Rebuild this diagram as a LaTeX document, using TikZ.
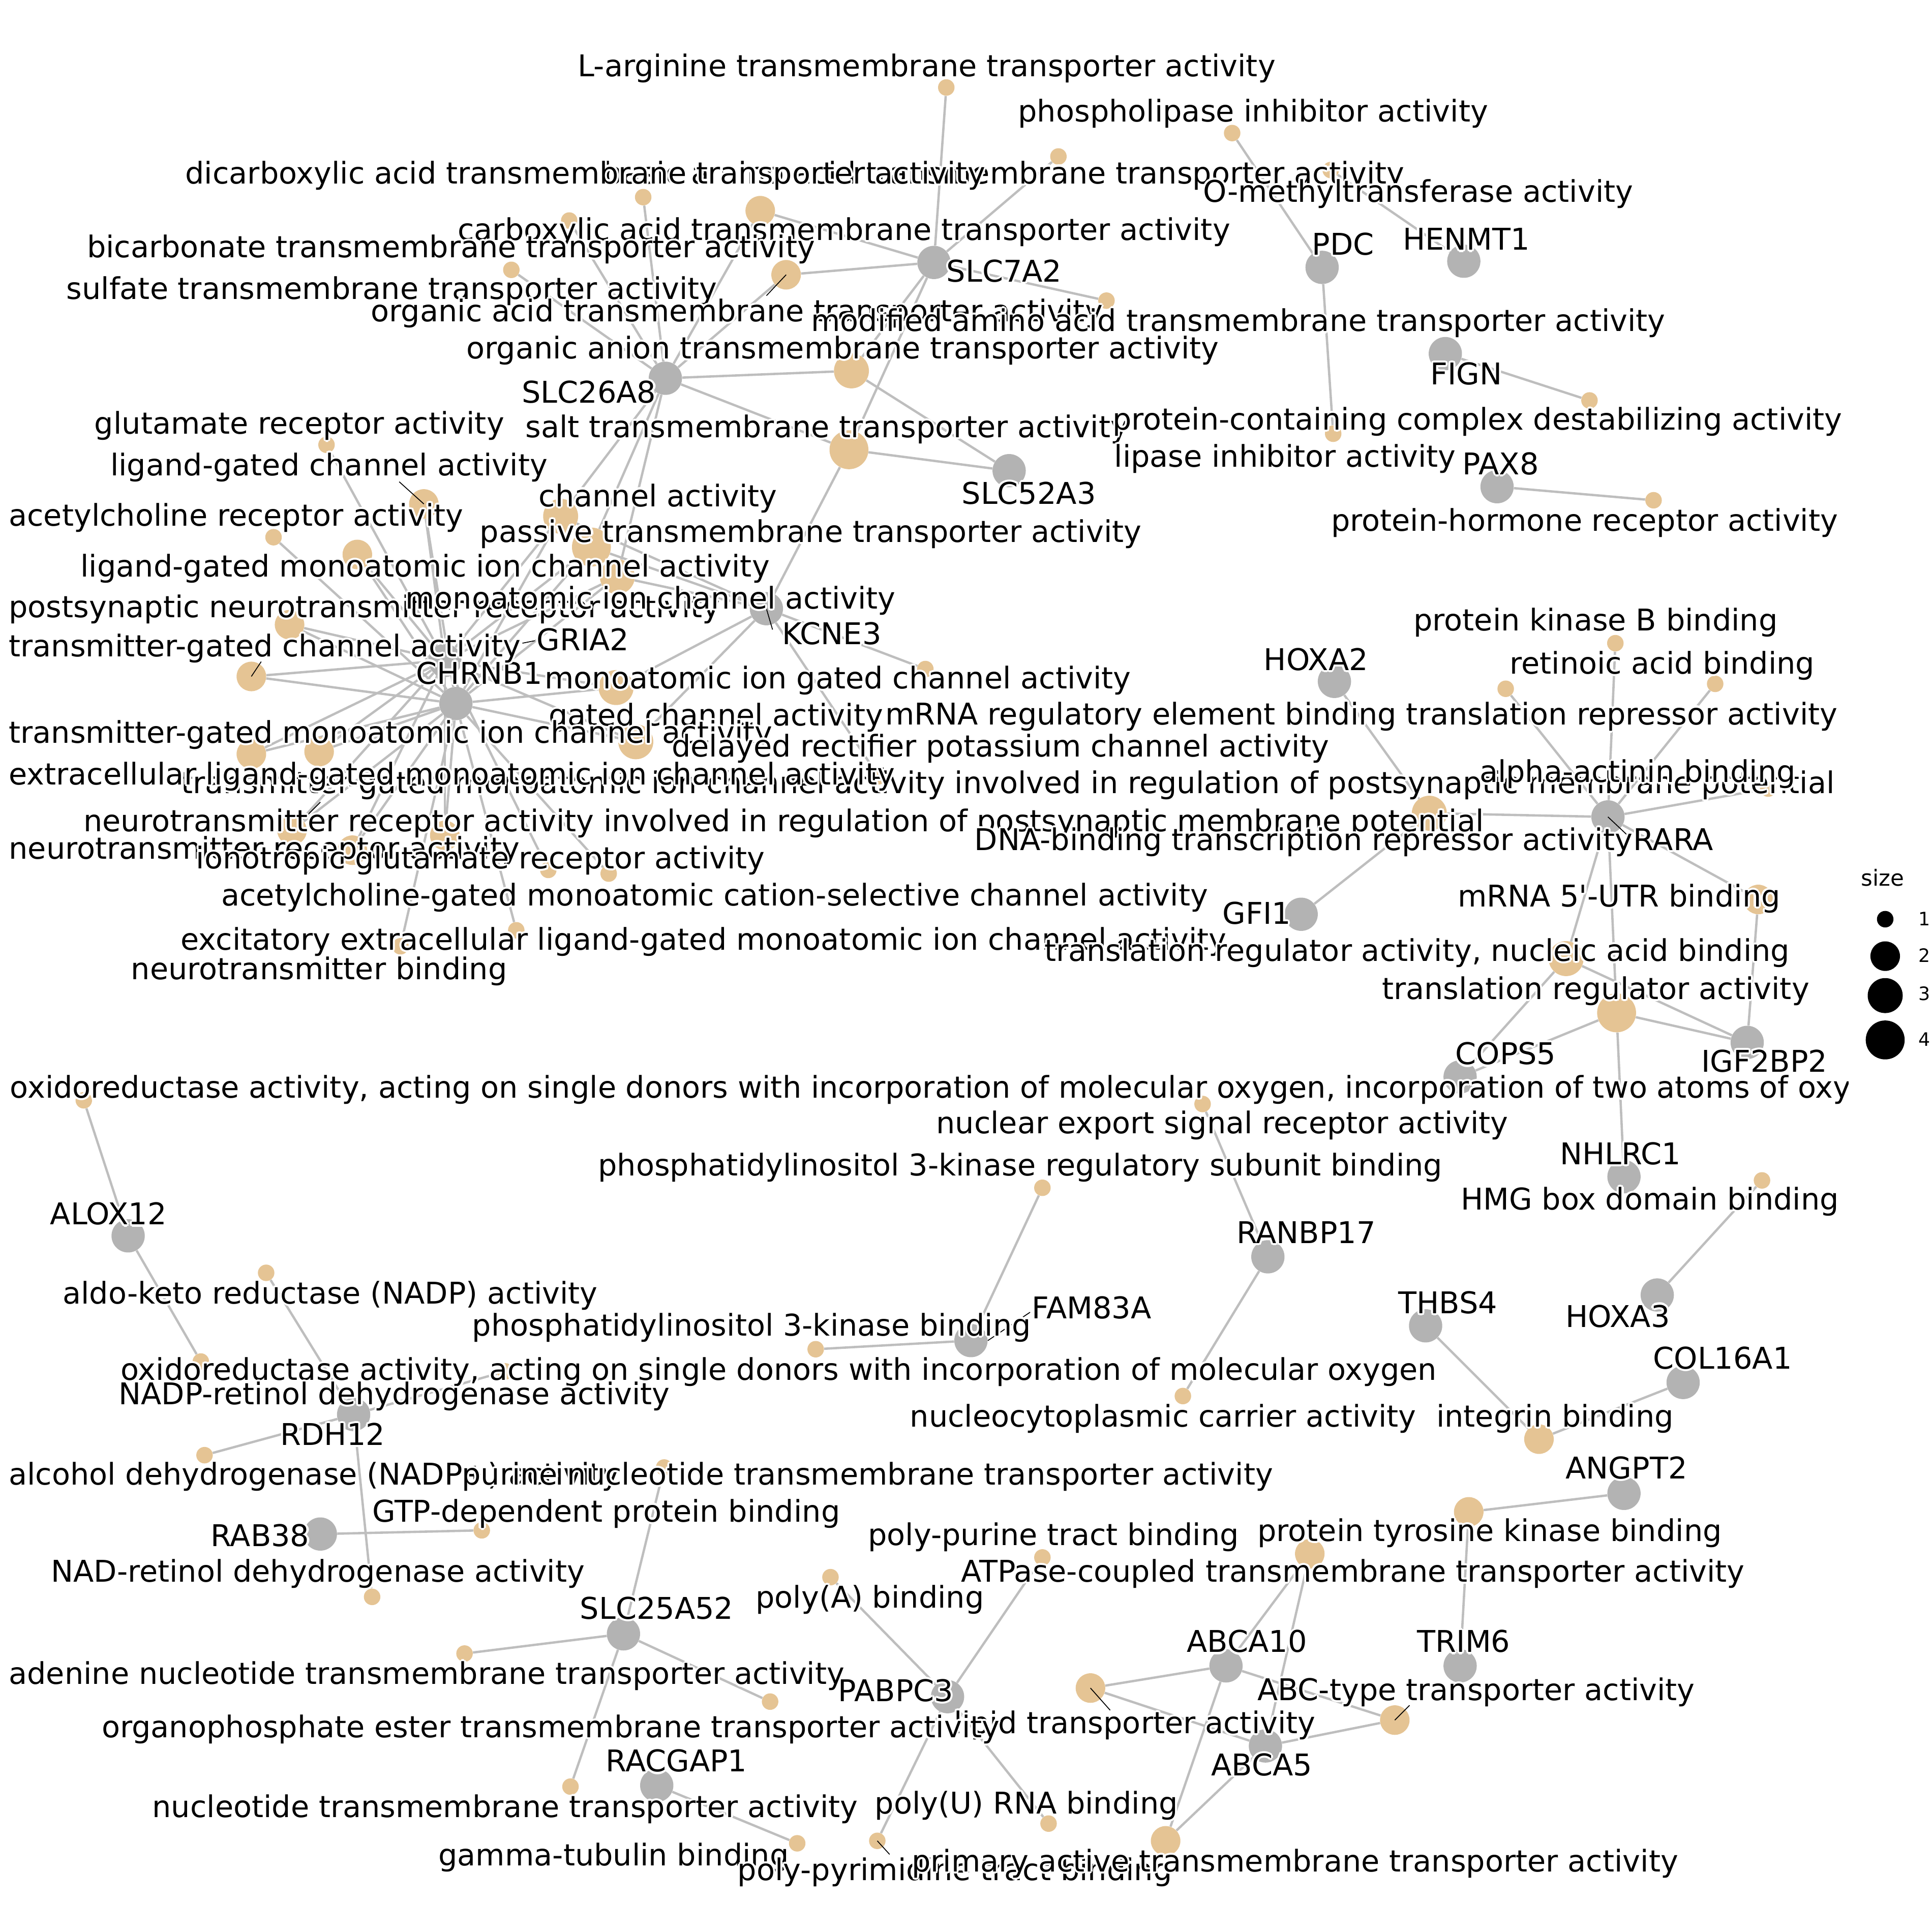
\documentclass[tikz,border=0pt]{standalone}
\usepackage{fontspec}
\setmainfont{DejaVu Sans}
\usetikzlibrary{backgrounds}
\definecolor{termtan}{HTML}{E5C494}
\definecolor{genegrey}{HTML}{B3B3B3}
\definecolor{linkgrey}{HTML}{BEBEBE}
% white halo behind a label
\newcommand{\haloshift}[3]{\rlap{\kern#1\raisebox{#2}{#3}}}
\newcommand{\halo}[1]{\leavevmode
  \rlap{\color{white}%
    \haloshift{1.7pt}{0pt}{#1}\haloshift{-1.7pt}{0pt}{#1}%
    \haloshift{0pt}{1.7pt}{#1}\haloshift{0pt}{-1.7pt}{#1}%
    \haloshift{1.2pt}{1.2pt}{#1}\haloshift{-1.2pt}{1.2pt}{#1}%
    \haloshift{1.2pt}{-1.2pt}{#1}\haloshift{-1.2pt}{-1.2pt}{#1}}%
  #1}

\begin{document}
\begin{tikzpicture}[
  x=1pt, y=-1pt,
  font=\fontsize{24.3}{29}\selectfont,
  gene/.style={circle, fill=genegrey, inner sep=0pt, minimum size=27},
  term/.style={circle, fill=termtan, inner sep=0pt},
  t1/.style={term, minimum size=13.4},
  t2/.style={term, minimum size=24},
  t3/.style={term, minimum size=28.4},
  t4/.style={term, minimum size=31.6},
  lbl/.style={anchor=base, inner sep=0pt},
  lblw/.style={anchor=base west, inner sep=0pt},
  link/.style={draw=linkgrey, line width=1.9},
  seg/.style={black, line width=0.7},
  key/.style={circle, fill=black, inner sep=0pt}
]
    \useasboundingbox (0,0) rectangle (1568,1568);

    % gene nodes
    \node[gene] (g-slc7a2)   at (758,213)  {};
    \node[gene] (g-slc26a8)  at (540,307)  {};
    \node[gene] (g-slc52a3)  at (819,382)  {};
    \node[gene] (g-pdc)      at (1073,217) {};
    \node[gene] (g-henmt1)   at (1188,212) {};
    \node[gene] (g-fign)     at (1173,287) {};
    \node[gene] (g-pax8)     at (1215,395) {};
    \node[gene] (g-kcne3)    at (622,494)  {};
    \node[gene] (g-gria2)    at (361,536)  {};
    \node[gene] (g-chrnb1)   at (370,571)  {};
    \node[gene] (g-hoxa2)    at (1083,553) {};
    \node[gene] (g-rara)     at (1305,663) {};
    \node[gene] (g-gfi1)     at (1056,742) {};
    \node[gene] (g-cops5)    at (1185,874) {};
    \node[gene] (g-igf2bp2)  at (1418,846) {};
    \node[gene] (g-nhlrc1)   at (1318,955) {};
    \node[gene] (g-alox12)   at (104,1003) {};
    \node[gene] (g-ranbp17)  at (1029,1020) {};
    \node[gene] (g-fam83a)   at (788,1088) {};
    \node[gene] (g-hoxa3)    at (1345,1051) {};
    \node[gene] (g-thbs4)    at (1157,1076) {};
    \node[gene] (g-col16a1)  at (1366,1122) {};
    \node[gene] (g-rdh12)    at (287,1148) {};
    \node[gene] (g-angpt2)   at (1318,1212) {};
    \node[gene] (g-rab38)    at (260,1245) {};
    \node[gene] (g-slc25a52) at (506,1326) {};
    \node[gene] (g-abca10)   at (995,1352) {};
    \node[gene] (g-trim6)    at (1185,1352) {};
    \node[gene] (g-pabpc3)   at (769,1377) {};
    \node[gene] (g-abca5)    at (1027,1417) {};
    \node[gene] (g-racgap1)  at (533,1449) {};

    % term nodes, transporters
    \node[t1] (t-arg)      at (768,71)   {};
    \node[t1] (t-phlinh)   at (1000,108) {};
    \node[t1] (t-basic)    at (859,127)  {};
    \node[t1] (t-ometh)    at (1080,138) {};
    \node[t1] (t-dicarb)   at (522,160)  {};
    \node[t2] (t-carbox)   at (617,171)  {};
    \node[t1] (t-bicarb)   at (462,179)  {};
    \node[t1] (t-sulf)     at (415,219)  {};
    \node[t2] (t-orgacid)  at (638,223)  {};
    \node[t1] (t-modam)    at (898,244)  {};
    \node[t3] (t-organion) at (691,301)  {};
    \node[t4] (t-salt)     at (689,365)  {};
    \node[t1] (t-lipinh)   at (1082,352) {};
    \node[t1] (t-destab)   at (1290,325) {};
    \node[t1] (t-hormone)  at (1342,406) {};

    % term nodes, channels and receptors
    \node[t1] (t-glurec)    at (265,361) {};
    \node[t2] (t-lgchan)    at (344,409) {};
    \node[t1] (t-achrec)    at (222,436) {};
    \node[t2] (t-lgmono)    at (290,450) {};
    \node[t3] (t-chan)      at (455,419) {};
    \node[t4] (t-passive)   at (480,444) {};
    \node[t3] (t-monochan)  at (501,468) {};
    \node[t2] (t-postsyn)   at (235,507) {};
    \node[t2] (t-tgchan)    at (204,549) {};
    \node[t3] (t-monogated) at (500,558) {};
    \node[t3] (t-gated)     at (516,602) {};
    \node[t2] (t-tgmono)    at (204,612) {};
    \node[t2] (t-extlg)     at (259,610) {};
    \node[t2] (t-ntrinv)    at (237,674) {};
    \node[t2] (t-ntrec)     at (286,690) {};
    \node[t2] (t-tginv)     at (361,678) {};
    \node[t1] (t-ionglu)    at (445,706) {};
    \node[t1] (t-achgated)  at (494,709) {};
    \node[t1] (t-excit)     at (419,755) {};
    \node[t1] (t-ntbind)    at (325,768) {};
    \node[t1] (t-delayed)   at (713,630) {};
    \node[t1] (t-kx)        at (751,543) {};

    % term nodes, RARA group
    \node[t1] (t-pkb)      at (1311,522) {};
    \node[t1] (t-retinoic) at (1392,555) {};
    \node[t1] (t-mrnareg)  at (1222,559) {};
    \node[t1] (t-actinin)  at (1435,640) {};
    \node[t3] (t-dnarep)   at (1160,660) {};
    \node[t2] (t-utr)      at (1427,730) {};
    \node[t3] (t-trnucl)   at (1271,778) {};
    \node[t4] (t-trreg)    at (1312,822) {};

    % term nodes, lower half
    \node[t1] (t-dioxy)      at (68,893)    {};
    \node[t1] (t-nesr)       at (976,896)   {};
    \node[t1] (t-pi3kreg)    at (846,964)   {};
    \node[t1] (t-hmg)        at (1430,958)  {};
    \node[t1] (t-aldoketo)   at (216,1033)  {};
    \node[t1] (t-pi3k)       at (662,1095)  {};
    \node[t1] (t-monoxy)     at (163,1105)  {};
    \node[t1] (t-nadpret)    at (410,1113)  {};
    \node[t1] (t-nucleocyto) at (960,1133)  {};
    \node[t2] (t-integrin)   at (1249,1168) {};
    \node[t1] (t-alcohol)    at (166,1181)  {};
    \node[t1] (t-purine)     at (539,1191)  {};
    \node[t1] (t-gtp)        at (391,1242)  {};
    \node[t1] (t-nadret)     at (302,1296)  {};
    \node[t1] (t-polypur)    at (846,1264)  {};
    \node[t2] (t-ptk)        at (1192,1227) {};
    \node[t2] (t-atpase)     at (1063,1261) {};
    \node[t1] (t-polya)      at (674,1280)  {};
    \node[t1] (t-adenine)    at (377,1342)  {};
    \node[t1] (t-orgphos)    at (625,1381)  {};
    \node[t1] (t-nucleot)    at (463,1450)  {};
    \node[t2] (t-lipid)      at (885,1370)  {};
    \node[t2] (t-abc)        at (1132,1396) {};
    \node[t1] (t-polyu)      at (851,1480)  {};
    \node[t1] (t-gamma)      at (647,1496)  {};
    \node[t1] (t-polypyr)    at (712,1494)  {};
    \node[t2] (t-primary)    at (946,1494)  {};

    % links, kept under the nodes
    \begin{scope}[on background layer]
    \draw[link] (g-slc7a2) -- (t-arg);
    \draw[link] (g-slc7a2) -- (t-basic);
    \draw[link] (g-slc7a2) -- (t-carbox);
    \draw[link] (g-slc7a2) -- (t-orgacid);
    \draw[link] (g-slc7a2) -- (t-modam);
    \draw[link] (g-slc7a2) -- (t-organion);
    \draw[link] (g-slc7a2) -- (t-salt);
    \draw[link] (g-slc26a8) -- (t-dicarb);
    \draw[link] (g-slc26a8) -- (t-bicarb);
    \draw[link] (g-slc26a8) -- (t-sulf);
    \draw[link] (g-slc26a8) -- (t-carbox);
    \draw[link] (g-slc26a8) -- (t-orgacid);
    \draw[link] (g-slc26a8) -- (t-organion);
    \draw[link] (g-slc26a8) -- (t-salt);
    \draw[link] (g-slc26a8) -- (t-chan);
    \draw[link] (g-slc26a8) -- (t-passive);
    \draw[link] (g-slc26a8) -- (t-monochan);
    \draw[link] (g-slc52a3) -- (t-organion);
    \draw[link] (g-slc52a3) -- (t-salt);
    \draw[link] (g-pdc) -- (t-phlinh);
    \draw[link] (g-pdc) -- (t-lipinh);
    \draw[link] (g-henmt1) -- (t-ometh);
    \draw[link] (g-fign) -- (t-destab);
    \draw[link] (g-pax8) -- (t-hormone);
    \draw[link] (g-kcne3) -- (t-salt);
    \draw[link] (g-kcne3) -- (t-chan);
    \draw[link] (g-kcne3) -- (t-passive);
    \draw[link] (g-kcne3) -- (t-monochan);
    \draw[link] (g-kcne3) -- (t-monogated);
    \draw[link] (g-kcne3) -- (t-gated);
    \draw[link] (g-kcne3) -- (t-delayed);
    \draw[link] (g-kcne3) -- (t-kx);
    \draw[link] (g-gria2) -- (t-glurec);
    \draw[link] (g-gria2) -- (t-lgchan);
    \draw[link] (g-gria2) -- (t-lgmono);
    \draw[link] (g-gria2) -- (t-chan);
    \draw[link] (g-gria2) -- (t-passive);
    \draw[link] (g-gria2) -- (t-monochan);
    \draw[link] (g-gria2) -- (t-postsyn);
    \draw[link] (g-gria2) -- (t-tgchan);
    \draw[link] (g-gria2) -- (t-monogated);
    \draw[link] (g-gria2) -- (t-gated);
    \draw[link] (g-gria2) -- (t-tgmono);
    \draw[link] (g-gria2) -- (t-extlg);
    \draw[link] (g-gria2) -- (t-ntrinv);
    \draw[link] (g-gria2) -- (t-ntrec);
    \draw[link] (g-gria2) -- (t-tginv);
    \draw[link] (g-gria2) -- (t-ionglu);
    \draw[link] (g-chrnb1) -- (t-lgchan);
    \draw[link] (g-chrnb1) -- (t-achrec);
    \draw[link] (g-chrnb1) -- (t-lgmono);
    \draw[link] (g-chrnb1) -- (t-chan);
    \draw[link] (g-chrnb1) -- (t-passive);
    \draw[link] (g-chrnb1) -- (t-monochan);
    \draw[link] (g-chrnb1) -- (t-postsyn);
    \draw[link] (g-chrnb1) -- (t-tgchan);
    \draw[link] (g-chrnb1) -- (t-monogated);
    \draw[link] (g-chrnb1) -- (t-gated);
    \draw[link] (g-chrnb1) -- (t-tgmono);
    \draw[link] (g-chrnb1) -- (t-extlg);
    \draw[link] (g-chrnb1) -- (t-ntrinv);
    \draw[link] (g-chrnb1) -- (t-ntrec);
    \draw[link] (g-chrnb1) -- (t-tginv);
    \draw[link] (g-chrnb1) -- (t-achgated);
    \draw[link] (g-chrnb1) -- (t-excit);
    \draw[link] (g-chrnb1) -- (t-ntbind);
    \draw[link] (g-hoxa2) -- (t-dnarep);
    \draw[link] (g-gfi1) -- (t-dnarep);
    \draw[link] (g-rara) -- (t-pkb);
    \draw[link] (g-rara) -- (t-retinoic);
    \draw[link] (g-rara) -- (t-mrnareg);
    \draw[link] (g-rara) -- (t-actinin);
    \draw[link] (g-rara) -- (t-dnarep);
    \draw[link] (g-rara) -- (t-utr);
    \draw[link] (g-rara) -- (t-trnucl);
    \draw[link] (g-rara) -- (t-trreg);
    \draw[link] (g-cops5) -- (t-trnucl);
    \draw[link] (g-cops5) -- (t-trreg);
    \draw[link] (g-igf2bp2) -- (t-utr);
    \draw[link] (g-igf2bp2) -- (t-trnucl);
    \draw[link] (g-igf2bp2) -- (t-trreg);
    \draw[link] (g-nhlrc1) -- (t-trreg);
    \draw[link] (g-alox12) -- (t-dioxy);
    \draw[link] (g-alox12) -- (t-monoxy);
    \draw[link] (g-ranbp17) -- (t-nesr);
    \draw[link] (g-ranbp17) -- (t-nucleocyto);
    \draw[link] (g-fam83a) -- (t-pi3kreg);
    \draw[link] (g-fam83a) -- (t-pi3k);
    \draw[link] (g-hoxa3) -- (t-hmg);
    \draw[link] (g-thbs4) -- (t-integrin);
    \draw[link] (g-col16a1) -- (t-integrin);
    \draw[link] (g-rdh12) -- (t-aldoketo);
    \draw[link] (g-rdh12) -- (t-nadpret);
    \draw[link] (g-rdh12) -- (t-alcohol);
    \draw[link] (g-rdh12) -- (t-nadret);
    \draw[link] (g-angpt2) -- (t-ptk);
    \draw[link] (g-trim6) -- (t-ptk);
    \draw[link] (g-rab38) -- (t-gtp);
    \draw[link] (g-slc25a52) -- (t-purine);
    \draw[link] (g-slc25a52) -- (t-adenine);
    \draw[link] (g-slc25a52) -- (t-orgphos);
    \draw[link] (g-slc25a52) -- (t-nucleot);
    \draw[link] (g-abca10) -- (t-atpase);
    \draw[link] (g-abca10) -- (t-lipid);
    \draw[link] (g-abca10) -- (t-abc);
    \draw[link] (g-abca10) -- (t-primary);
    \draw[link] (g-abca5) -- (t-atpase);
    \draw[link] (g-abca5) -- (t-lipid);
    \draw[link] (g-abca5) -- (t-abc);
    \draw[link] (g-abca5) -- (t-primary);
    \draw[link] (g-pabpc3) -- (t-polypur);
    \draw[link] (g-pabpc3) -- (t-polya);
    \draw[link] (g-pabpc3) -- (t-polyu);
    \draw[link] (g-pabpc3) -- (t-polypyr);
    \draw[link] (g-racgap1) -- (t-gamma);
    \end{scope}

    % label leader lines
    \coordinate (s-lgchan)  at (324,391);
    \coordinate (s-tgchan)  at (212,537);
    \coordinate (s-orgacid) at (622,240);
    \coordinate (s-tginv)   at (260,651);
    \coordinate (s-delayed) at (717,623);
    \coordinate (s-lipid)   at (901,1388);
    \coordinate (s-abc)     at (1144,1384);
    \coordinate (s-polypyr) at (722,1505);
    \coordinate (s-kcne3)   at (627,511);
    \coordinate (s-rara)    at (1322,679);
    \coordinate (s-fam83a)  at (836,1065);
    \coordinate (s-gria2)   at (434,520);
    \coordinate (s-gria2b)  at (424,522);
    \draw[seg] (s-lgchan)  -- (t-lgchan.center);
    \draw[seg] (s-tgchan)  -- (t-tgchan.center);
    \draw[seg] (s-orgacid) -- (t-orgacid.center);
    \draw[seg] (s-tginv)   -- (t-ntrinv.north east);
    \draw[seg] (s-delayed) -- (t-delayed.center);
    \draw[seg] (s-lipid)   -- (t-lipid.center);
    \draw[seg] (s-abc)     -- (t-abc.center);
    \draw[seg] (s-polypyr) -- (t-polypyr.center);
    \draw[seg] (s-kcne3)   -- (g-kcne3.center);
    \draw[seg] (s-rara)    -- (g-rara.center);
    \draw[seg] (s-fam83a)  -- (g-fam83a.east);
    \draw[seg] (s-gria2)   -- (s-gria2b);

    % gene labels
    \node[lbl] (l-slc7a2)   at (815,229)  {\halo{SLC7A2}};
    \node[lbl] (l-slc26a8)  at (478,327)  {\halo{SLC26A8}};
    \node[lbl] (l-slc52a3)  at (835,409)  {\halo{SLC52A3}};
    \node[lbl] (l-pdc)      at (1090,207) {\halo{PDC}};
    \node[lbl] (l-henmt1)   at (1190,203) {\halo{HENMT1}};
    \node[lbl] (l-fign)     at (1190,312) {\halo{FIGN}};
    \node[lbl] (l-pax8)     at (1218,385) {\halo{PAX8}};
    \node[lbl] (l-kcne3)    at (675,523)  {\halo{KCNE3}};
    \node[lbl] (l-gria2)    at (473,528)  {\halo{GRIA2}};
    \node[lbl] (l-chrnb1)   at (389,555)  {\halo{CHRNB1}};
    \node[lbl] (l-hoxa2)    at (1068,544) {\halo{HOXA2}};
    \node[lbl] (l-rara)     at (1358,690) {\halo{RARA}};
    \node[lbl] (l-gfi1)     at (1020,750) {\halo{GFI1}};
    \node[lbl] (l-cops5)    at (1222,864) {\halo{COPS5}};
    \node[lbl] (l-igf2bp2)  at (1432,870) {\halo{IGF2BP2}};
    \node[lbl] (l-nhlrc1)   at (1315,945) {\halo{NHLRC1}};
    \node[lbl] (l-alox12)   at (88,994)   {\halo{ALOX12}};
    \node[lbl] (l-ranbp17)  at (1060,1009) {\halo{RANBP17}};
    \node[lbl] (l-fam83a)   at (886,1070) {\halo{FAM83A}};
    \node[lbl] (l-thbs4)    at (1175,1066) {\halo{THBS4}};
    \node[lbl] (l-hoxa3)    at (1313,1077) {\halo{HOXA3}};
    \node[lbl] (l-col16a1)  at (1398,1111) {\halo{COL16A1}};
    \node[lbl] (l-rdh12)    at (270,1173) {\halo{RDH12}};
    \node[lbl] (l-angpt2)   at (1320,1200) {\halo{ANGPT2}};
    \node[lbl] (l-rab38)    at (211,1255) {\halo{RAB38}};
    \node[lbl] (l-slc25a52) at (533,1314) {\halo{SLC25A52}};
    \node[lbl] (l-abca10)   at (1012,1341) {\halo{ABCA10}};
    \node[lbl] (l-trim6)    at (1188,1341) {\halo{TRIM6}};
    \node[lbl] (l-pabpc3)   at (727,1381) {\halo{PABPC3}};
    \node[lbl] (l-abca5)    at (1024,1441) {\halo{ABCA5}};
    \node[lbl] (l-racgap1)  at (549,1438) {\halo{RACGAP1}};

    % term labels
    \node[lbl] (l-arg)      at (752,62)   {\halo{L-arginine transmembrane transporter activity}};
    \node[lbl] (l-phlinh)   at (1017,99)  {\halo{phospholipase inhibitor activity}};
    \node[lbl] (l-basic)    at (815,149)  {\halo{basic amino acid transmembrane transporter activity}};
    \node[lbl] (l-dicarb)   at (475,149)  {\halo{dicarboxylic acid transmembrane transporter activity}};
    \node[lbl] (l-ometh)    at (1151,164) {\halo{O-methyltransferase activity}};
    \node[lbl] (l-carbox)   at (685,195)  {\halo{carboxylic acid transmembrane transporter activity}};
    \node[lbl] (l-bicarb)   at (366,209)  {\halo{bicarbonate transmembrane transporter activity}};
    \node[lbl] (l-sulf)     at (318,243)  {\halo{sulfate transmembrane transporter activity}};
    \node[lbl] (l-orgacid)  at (598,261)  {\halo{organic acid transmembrane transporter activity}};
    \node[lbl] (l-modam)    at (1005,269) {\halo{modified amino acid transmembrane transporter activity}};
    \node[lbl] (l-organion) at (684,291)  {\halo{organic anion transmembrane transporter activity}};
    \node[lbl] (l-glurec)   at (243,352)  {\halo{glutamate receptor activity}};
    \node[lbl] (l-salt)     at (671,355)  {\halo{salt transmembrane transporter activity}};
    \node[lbl] (l-destab)   at (1199,349) {\halo{protein-containing complex destabilizing activity}};
    \node[lbl] (l-lipinh)   at (1043,379) {\halo{lipase inhibitor activity}};
    \node[lbl] (l-lgchan)   at (267,386)  {\halo{ligand-gated channel activity}};
    \node[lbl] (l-chan)     at (534,411)  {\halo{channel activity}};
    \node[lblw] (l-achrec)  at (7,427)    {\halo{acetylcholine receptor activity}};
    \node[lbl] (l-hormone)  at (1286,431) {\halo{protein-hormone receptor activity}};
    \node[lbl] (l-passive)  at (658,440)  {\halo{passive transmembrane transporter activity}};
    \node[lbl] (l-lgmono)   at (345,468)  {\halo{ligand-gated monoatomic ion channel activity}};
    \node[lblw] (l-postsyn) at (7,501)    {\halo{postsynaptic neurotransmitter receptor activity}};
    \node[lbl] (l-monochan) at (528,494)  {\halo{monoatomic ion channel activity}};
    \node[lbl] (l-pkb)      at (1295,512) {\halo{protein kinase B binding}};
    \node[lblw] (l-tgchan)  at (7,533)    {\halo{transmitter-gated channel activity}};
    \node[lbl] (l-retinoic) at (1349,547) {\halo{retinoic acid binding}};
    \node[lbl] (l-monogated) at (680,559) {\halo{monoatomic ion gated channel activity}};
    \node[lbl] (l-mrnareg)  at (1105,588) {\halo{mRNA regulatory element binding translation repressor activity}};
    \node[lbl] (l-gated)    at (581,589)  {\halo{gated channel activity}};
    \node[lblw] (l-tgmono)  at (7,603)    {\halo{transmitter-gated monoatomic ion channel activity}};
    \node[lbl] (l-delayed)  at (812,614)  {\halo{delayed rectifier potassium channel activity}};
    \node[lbl] (l-tginv)    at (818,644)  {\halo{transmitter-gated monoatomic ion channel activity involved in regulation of postsynaptic membrane potential}};
    \node[lbl] (l-actinin)  at (1329,635) {\halo{alpha-actinin binding}};
    \node[lblw] (l-extlg)   at (7,637)    {\halo{extracellular ligand-gated monoatomic ion channel activity}};
    \node[lbl] (l-ntrinv)   at (636,675)  {\halo{neurotransmitter receptor activity involved in regulation of postsynaptic membrane potential}};
    \node[lbl] (l-dnarep)   at (1058,690) {\halo{DNA-binding transcription repressor activity}};
    \node[lblw] (l-ntrec)   at (7,697)    {\halo{neurotransmitter receptor activity}};
    \node[lbl] (l-ionglu)   at (390,705)  {\halo{ionotropic glutamate receptor activity}};
    \node[lbl] (l-achgated) at (580,735)  {\halo{acetylcholine-gated monoatomic cation-selective channel activity}};
    \node[lbl] (l-utr)      at (1314,736) {\halo{mRNA 5\textquotesingle-UTR binding}};
    \node[lbl] (l-excit)    at (571,771)  {\halo{excitatory extracellular ligand-gated monoatomic ion channel activity}};
    \node[lbl] (l-trnucl)   at (1150,780) {\halo{translation regulator activity, nucleic acid binding}};
    \node[lbl] (l-ntbind)   at (259,795)  {\halo{neurotransmitter binding}};
    \node[lbl] (l-trreg)    at (1295,811) {\halo{translation regulator activity}};
    \begin{scope}
      \clip (0,0) rectangle (1500,1568);
      \node[lblw] (l-dioxy) at (8,891) {\halo{oxidoreductase activity, acting on single donors with incorporation of molecular oxygen, incorporation of two atoms of oxygen}};
    \end{scope}
    \node[lbl] (l-nesr)     at (992,920)  {\halo{nuclear export signal receptor activity}};
    \node[lbl] (l-pi3kreg)  at (828,954)  {\halo{phosphatidylinositol 3-kinase regulatory subunit binding}};
    \node[lbl] (l-hmg)      at (1339,982) {\halo{HMG box domain binding}};
    \node[lbl] (l-aldoketo) at (268,1058) {\halo{aldo-keto reductase (NADP) activity}};
    \node[lbl] (l-pi3k)     at (610,1084) {\halo{phosphatidylinositol 3-kinase binding}};
    \node[lbl] (l-monoxy)   at (632,1120) {\halo{oxidoreductase activity, acting on single donors with incorporation of molecular oxygen}};
    \node[lbl] (l-nadpret)  at (320,1140) {\halo{NADP-retinol dehydrogenase activity}};
    \node[lbl] (l-nucleocyto) at (944,1158) {\halo{nucleocytoplasmic carrier activity}};
    \node[lbl] (l-integrin) at (1262,1158) {\halo{integrin binding}};
    \node[lblw] (l-alcohol) at (7,1205)   {\halo{alcohol dehydrogenase (NADP+) activity}};
    \node[lbl] (l-purine)   at (704,1205) {\halo{purine nucleotide transmembrane transporter activity}};
    \node[lbl] (l-gtp)      at (492,1235) {\halo{GTP-dependent protein binding}};
    \node[lbl] (l-ptk)      at (1209,1251) {\halo{protein tyrosine kinase binding}};
    \node[lbl] (l-polypur)  at (855,1254) {\halo{poly-purine tract binding}};
    \node[lbl] (l-atpase)   at (1098,1284) {\halo{ATPase-coupled transmembrane transporter activity}};
    \node[lbl] (l-nadret)   at (258,1284) {\halo{NAD-retinol dehydrogenase activity}};
    \node[lbl] (l-polya)    at (706,1305) {\halo{poly(A) binding}};
    \node[lblw] (l-adenine) at (7,1367)   {\halo{adenine nucleotide transmembrane transporter activity}};
    \node[lbl] (l-abc)      at (1198,1380) {\halo{ABC-type transporter activity}};
    \node[lbl] (l-lipid)    at (921,1407) {\halo{lipid transporter activity}};
    \node[lbl] (l-orgphos)  at (447,1410) {\halo{organophosphate ester transmembrane transporter activity}};
    \node[lbl] (l-nucleot)  at (410,1475) {\halo{nucleotide transmembrane transporter activity}};
    \node[lbl] (l-polyu)    at (833,1472) {\halo{poly(U) RNA binding}};
    \node[lbl] (l-gamma)    at (498,1514) {\halo{gamma-tubulin binding}};
    \node[lbl] (l-polypyr)  at (775,1526) {\halo{poly-pyrimidine tract binding}};
    \node[lbl] (l-primary)  at (1051,1519) {\halo{primary active transmembrane transporter activity}};

    % size legend
    \node[lbl] (k-title) at (1528,719) {\fontsize{18}{22}\selectfont size};
    \node[key, minimum size=13.4] (k1) at (1530,746) {};
    \node[key, minimum size=24]   (k2) at (1530,776) {};
    \node[key, minimum size=28.4] (k3) at (1530,808) {};
    \node[key, minimum size=31.6] (k4) at (1530,844) {};
    \node[lblw] (k1-num) at (1557,751) {\fontsize{15}{18}\selectfont 1};
    \node[lblw] (k2-num) at (1557,781) {\fontsize{15}{18}\selectfont 2};
    \node[lblw] (k3-num) at (1557,812) {\fontsize{15}{18}\selectfont 3};
    \node[lblw] (k4-num) at (1557,849) {\fontsize{15}{18}\selectfont 4};
\end{tikzpicture}
\end{document}
